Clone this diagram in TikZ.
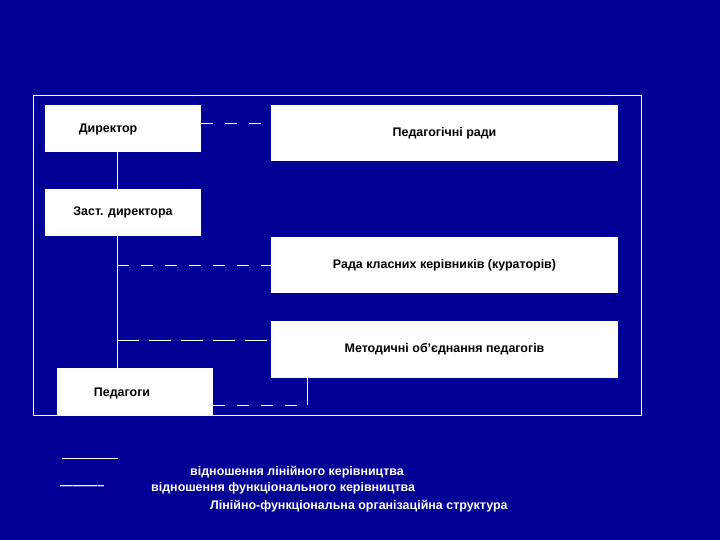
\documentclass[tikz,border=0pt]{standalone}
\usepackage{fontspec}
\setmainfont{Liberation Sans}
\definecolor{bg}{RGB}{0,0,150}
\begin{document}
\begin{tikzpicture}[x=1bp,y=-1bp,
  box/.style={draw=none,fill=white,text=black,font=\bfseries\fontsize{12.5}{15}\selectfont,inner sep=0},
  lin/.style={white,line width=0.8bp},
  fun/.style={white,line width=0.8bp,dash pattern=on 12bp off 12bp},
  lbl/.style={text=white,font=\bfseries\fontsize{12.5}{15}\selectfont,inner sep=0,anchor=west}]
\fill[bg] (0,0) rectangle (720,540);
\useasboundingbox (0,0) rectangle (720,540);
\draw[white,line width=0.6bp] (33,95) rectangle (641,415);
\node[box,minimum width=156bp,minimum height=47bp] (dir) at (123,128.5) {};
\node[box,font=\bfseries\fontsize{12.5}{15}\selectfont] at (108,130) {Директор};
\node[box,minimum width=347bp,minimum height=56bp] (ped) at (444.5,133) {Педагогічні ради};
\node[box,minimum width=156bp,minimum height=47bp] (zast) at (123,212.5) {Заст. директора};
\node[box,minimum width=347bp,minimum height=56bp] (rada) at (444.5,265) {Рада класних керівників (кураторів)};
\node[box,minimum width=347bp,minimum height=57bp] (met) at (444.5,349.5) {Методичні об’єднання педагогів};
\node[box,minimum width=156bp,minimum height=47bp] (pdg) at (135,391.5) {};
\node[box] at (122,393) {Педагоги};
\coordinate (a) at (117,265);
\coordinate (b) at (117,340);
\coordinate (c) at (307,405);
\draw[lin] (117,152) -- (117,189);
\draw[lin] (117,236) -- (117,368);
\draw[fun] (dir.east |- 0,123) -- (ped.west |- 0,123);
\draw[fun] (a) -- (rada.west |- a);
\draw[fun,dash pattern=on 22bp off 10bp] (b) -- (met.west |- b);
\draw[lin] (met.south -| c) -- (c);
\draw[fun] (pdg.east |- c) -- (c);
\coordinate (l1) at (62,458);
\coordinate (l2) at (118,458);
\draw[white,line width=0.6bp] (l1) -- (l2);
\node[lbl] (d) at (60,488) {-----------};
\node[lbl] (t1) at (190,472) {відношення лінійного керівництва};
\node[lbl] (t2) at (151,488) {відношення функціонального керівництва};
\node[lbl] (t3) at (210,506) {Лінійно-функціональна організаційна структура};
\end{tikzpicture}
\end{document}
